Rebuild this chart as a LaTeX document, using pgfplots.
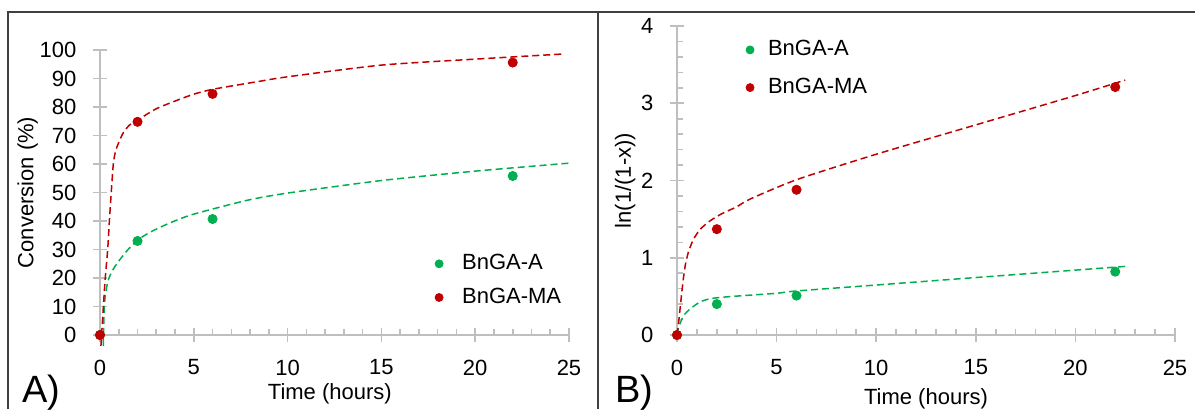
\documentclass[border=0pt]{standalone}
\usepackage{fontspec}
\setmainfont{Liberation Sans}
\usepackage{pgfplots}
\pgfplotsset{compat=1.18}
\definecolor{cgreen}{HTML}{00B050}
\definecolor{cred}{HTML}{C00000}
\definecolor{axgray}{HTML}{BFBFBF}
\definecolor{framegray}{HTML}{404040}

\pgfplotsset{
  kin/.style={
    scale only axis,
    axis lines=left,
    axis line style={-, axgray, line width=0.8pt},
    tick style={axgray, line width=0.8pt},
    tick align=inside,
    major tick length=7pt,
    minor tick length=3pt,
    every major x tick/.append style={yshift=-3.5pt},
    every major y tick/.append style={xshift=-3.5pt},
    xmin=0, xmax=25, xtick={0,5,...,25}, minor x tick num=4,
    /pgf/number format/assume math mode=true,
    tick label style={font=\fontsize{11}{13}\selectfont, black},
    xticklabel style={yshift=-8.5pt},
    yticklabel style={xshift=-8pt},
    label style={font=\fontsize{11}{13}\selectfont},
    legend style={draw=none, fill=none, font=\fontsize{11}{13}\selectfont, row sep=3.5pt},
    legend cell align=left,
    clip=false,
  },
  fit/.style={dash pattern=on 3.5pt off 2pt, line width=0.75pt, forget plot, no marks, smooth, tension=0.4},
  pts/.style={only marks, mark=*, mark size=2.3pt},
  dotkey/.style={legend image code/.code={
    \fill[##1] (0pt,0pt) circle (2pt);
    \path[draw=none, fill=none] (-2pt,0pt) -- (#1,0pt);}},
}

\begin{document}
\fontsize{11}{13}\selectfont
\begin{tikzpicture}
\useasboundingbox (0,0) rectangle (597.5pt,204.5pt);

% A) conversion
\begin{axis}[kin, dotkey=9.5pt,
  at={(50pt,37pt)}, anchor=south west,
  width=234.5pt, height=142.5pt,
  ymin=0, ymax=100, ytick={0,10,...,100},
  xlabel={Time (hours)}, ylabel={Conversion (\%)},
  xlabel style={at={(axis description cs:0.49,-0.228)}, anchor=base},
  ylabel style={at={(axis description cs:-0.154,0.5)}, anchor=center},
  legend style={at={(axis description cs:0.70,0.312)}, anchor=north west},
]
\addplot[fit, cgreen] coordinates {
  (0.18,-3.8) (0.23,10.4) (0.41,18.6) (0.67,22.7) (1.03,26.2) (1.47,29.8)
  (2,33.3) (2.71,36.2) (3.68,39.2) (4.74,41.9) (6,44.2) (8,47.5) (10,49.8)
  (15,54.2) (20,57.5) (25,60.3)};
\addplot[fit, cred] coordinates {
  (0.05,-3.8) (0.18,10) (0.28,20) (0.41,30) (0.50,40) (0.60,50) (0.71,60)
  (0.85,65) (1.2,70.5) (1.56,73.6) (2.05,75.6) (3.07,79.6) (4.86,84.2)
  (6,86.2) (8.4,88.9) (10,90.6) (15,94.7) (20,96.8) (24.7,98.6)};
\addplot[pts, cgreen] coordinates {(0,0) (2,33) (6,40.7) (22,55.8)};
\addplot[pts, cred] coordinates {(0,0) (2,74.8) (6,84.6) (22,95.6)};
\legend{BnGA-A, BnGA-MA}
\end{axis}

% B) first-order plot
\begin{axis}[kin, dotkey=7pt,
  at={(338.5pt,37pt)}, anchor=south west,
  width=249pt, height=154.5pt,
  ymin=0, ymax=4, ytick={0,1,2,3,4}, minor y tick num=4,
  xlabel={Time (hours)}, ylabel={ln(1/(1-x))},
  xlabel style={at={(axis description cs:0.50,-0.225)}, anchor=base},
  ylabel style={at={(axis description cs:-0.104,0.5)}, anchor=center},
  legend style={at={(axis description cs:0.125,0.98)}, anchor=north west, row sep=5.5pt},
]
\addplot[fit, cgreen] coordinates {
  (0,0) (0.08,0.1) (0.33,0.25) (0.67,0.34) (1.17,0.43) (1.67,0.47)
  (2.33,0.49) (3.33,0.51) (5,0.54) (6,0.57) (10,0.647) (15,0.744) (22.6,0.89)};
\addplot[fit, cred] coordinates {
  (0,0) (0.08,0.16) (0.17,0.38) (0.3,0.69) (0.42,0.91) (0.58,1.08) (0.83,1.24)
  (1.17,1.37) (1.67,1.48) (2.25,1.57) (3,1.66) (3.67,1.76) (6,2.01)
  (10,2.34) (15,2.72) (20,3.10) (22.5,3.30)};
\addplot[pts, cgreen] coordinates {(0,0) (2,0.40) (6,0.51) (22,0.82)};
\addplot[pts, cred] coordinates {(0,0) (2,1.37) (6,1.88) (22,3.21)};
\legend{BnGA-A, BnGA-MA}
\end{axis}

% panel frame and letters
\draw[framegray, line width=1pt] (3.75pt,0) -- (3.75pt,198.5pt) -- (597.5pt,198.5pt);
\draw[framegray, line width=1pt] (299pt,0) -- (299pt,198.5pt);
\node[anchor=base west, inner sep=0pt, font=\fontsize{19}{22}\selectfont] at (11pt,3.5pt) {A)};
\node[anchor=base west, inner sep=0pt, font=\fontsize{19}{22}\selectfont] at (307.5pt,3.5pt) {B)};
\end{tikzpicture}
\end{document}
